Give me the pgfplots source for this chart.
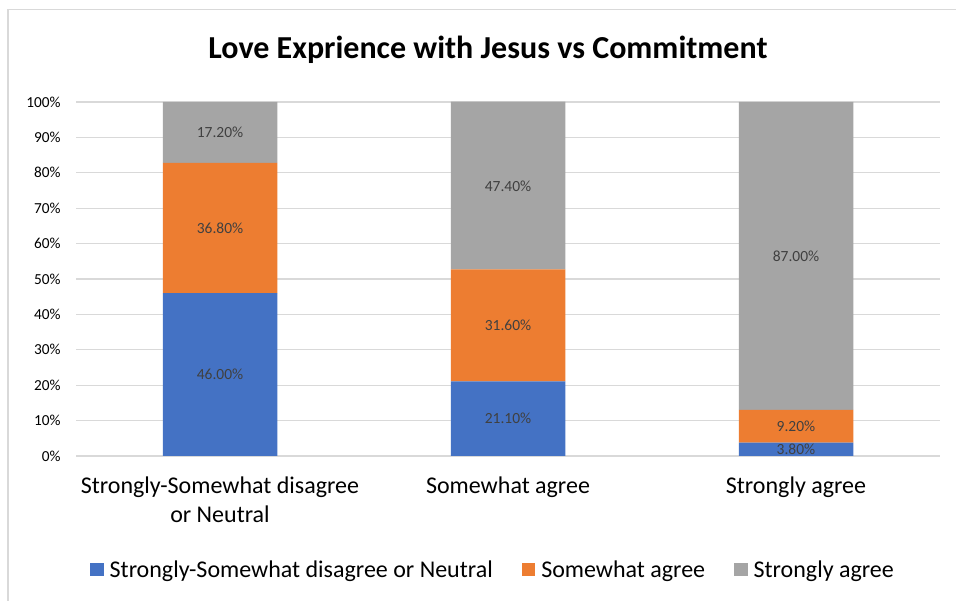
\documentclass[border=0pt]{standalone}
\usepackage{pgfplots}
\pgfplotsset{compat=1.18}
\usepackage{fontspec}
\setmainfont{Carlito}
\definecolor{cblue}{HTML}{4472C4}
\definecolor{corange}{HTML}{ED7D31}
\definecolor{cgray}{HTML}{A5A5A5}
\definecolor{cgrid}{HTML}{D9D9D9}
\definecolor{clab}{HTML}{404040}
\begin{document}
\begin{tikzpicture}[x=1pt,y=1pt]
\fill[white] (0,0) rectangle (956,601);
\draw[cgrid, line width=1.2pt] (8,-5) -- (8,591.5) -- (960,591.5);
\node[font=\fontsize{32}{38}\selectfont\bfseries] at (488,551) {Love Exprience with Jesus vs Commitment};
\begin{axis}[
  at={(76pt,145pt)}, anchor=south west,
  scale only axis, width=864pt, height=354pt,
  ybar stacked, bar width=114.5pt,
  xmin=-0.5, xmax=2.5, ymin=0, ymax=100,
  axis line style={draw=none},
  major tick length=0pt,
  ymajorgrids, grid style={cgrid, line width=1.2pt},
  ytick={0,10,...,100},
  yticklabels={0\%,10\%,20\%,30\%,40\%,50\%,60\%,70\%,80\%,90\%,100\%},
  yticklabel style={font=\fontsize{15.3}{17}\selectfont, text=black, xshift=-12pt},
  xtick={0,1,2},
  xticklabels={Strongly-Somewhat disagree\\or Neutral, Somewhat agree, Strongly agree},
  xticklabel style={font=\fontsize{24}{29}\selectfont, align=center, text=black, yshift=-17pt},
  legend style={at={(417pt,-114pt)}, anchor=center, draw=none, legend columns=-1,
    font=\fontsize{24}{28}\selectfont,
    /tikz/every odd column/.append style={column sep=4pt},
    /tikz/every even column/.append style={column sep=27pt}},
  legend image code/.code={\fill[#1] (0pt,-6.5pt) rectangle (13.5pt,7pt);},
]
\addplot[fill=cblue, draw=none] coordinates {(0,46.0) (1,21.1) (2,3.8)};
\addplot[fill=corange, draw=none] coordinates {(0,36.8) (1,31.6) (2,9.2)};
\addplot[fill=cgray, draw=none] coordinates {(0,17.2) (1,47.4) (2,87.0)};
\legend{Strongly-Somewhat disagree or Neutral, Somewhat agree, Strongly agree}
\end{axis}
\begin{axis}[
  at={(76pt,145pt)}, anchor=south west,
  scale only axis, width=864pt, height=354pt,
  xmin=-0.5, xmax=2.5, ymin=0, ymax=100,
  hide axis,
]
\addplot[draw=none, mark=none, point meta=explicit symbolic,
  nodes near coords, nodes near coords align=center,
  every node near coord/.append style={anchor=center, font=\fontsize{15.5}{18}\selectfont, text=clab}]
  coordinates {
   (0,23.0) [46.00\%] (0,64.4) [36.80\%] (0,91.4) [17.20\%]
   (1,10.55) [21.10\%] (1,36.9) [31.60\%] (1,76.3) [47.40\%]
   (2,1.9) [3.80\%] (2,8.5) [9.20\%] (2,56.5) [87.00\%]
  };
\end{axis}
\pgfresetboundingbox
\useasboundingbox (0,0) rectangle (956,601);
\end{tikzpicture}
\end{document}
